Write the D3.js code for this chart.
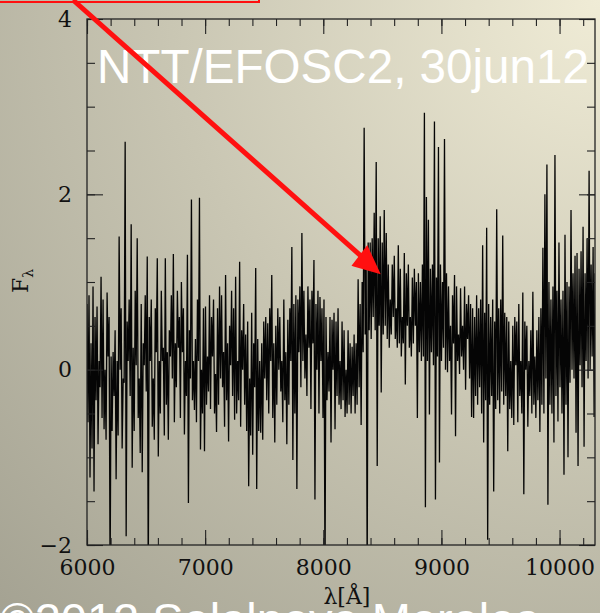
<!DOCTYPE html>
<html>
<head>
<meta charset="utf-8">
<script src="https://cdn.jsdelivr.net/npm/d3@7"></script>
<style>
  html, body { margin: 0; padding: 0; overflow: hidden; background: #c5c2af; }
  svg { display: block; }
</style>
</head>
<body>
<svg id="chart" width="600" height="613"></svg>
<script>
// spectrum: one flux value every 8.5 A from 6000 A
const lambdaStart = 6000
const lambdaStep = 8.5
const flux = [
  0.75, -0.6, 0.85, -1.23, 0.3, -0.9, 0.95, -1.39, 0.6, -0.35,
  0.72, -0.85, 0.1, -0.2, 1.06, -0.55, 0.8, -0.68, 0.0, -0.8,
  0.88, 0.15, 0.6, -2.4, 0.15, -0.7, 0.2, -0.3, 0.45, -1.25,
  0.1, -0.75, 1.52, 0.0, 0.7, -0.9, -0.1, -0.15, 2.6, -1.9,
  0.55, 0.1, 0.8, -0.3, 1.66, -1.12, 0.25, -0.7, 0.9, 0.05,
  1.5, -0.55, -0.1, -0.95, 0.75, -1.17, 0.3, 0.05, 0.85, -0.25,
  1.29, -2.4, 0.6, 0.1, 0.8, -0.65, -0.1, -0.8, 0.7, 0.2,
  1.27, -0.99, 0.1, -0.5, 0.9, 0.1, 0.25, -0.75, 1.27, -0.4,
  0.2, -0.8, 0.45, 0.15, 0.85, -0.1, 1.32, -0.6, 0.3, -0.2,
  0.9, 0.25, 0.6, -0.55, 1.0, 0.2, 0.7, -0.74, 0.1, -0.3,
  1.31, -1.52, 0.45, -0.1, 1.94, -0.35, 0.1, -0.46, 0.35, -0.6,
  0.8, 0.1, 1.96, -0.91, 0.0, -0.5, 0.7, -0.93, 0.72, -0.4,
  0.15, -0.25, 0.85, -0.45, 0.6, 0.15, 0.8, -0.5, -0.05, -0.71,
  0.7, -0.4, 0.95, -0.1, 0.85, -0.2, 0.2, -0.65, 1.08, -0.35,
  0.3, -0.82, 0.5, 0.05, 0.9, -0.3, 0.7, -0.57, 1.06, -0.5,
  0.1, -0.35, 1.23, -0.65, 0.45, 0.0, 0.75, -0.4, 0.4, -0.7,
  0.55, -1.33, -0.1, -0.75, 0.65, -0.97, 0.3, -0.2, 1.16, -1.36,
  0.35, -0.7, 0.1, -0.72, 0.3, -0.8, 0.55, -0.1, 0.6, -0.35,
  0.53, -0.5, 0.7, 0.1, 1.08, -0.55, 0.3, -0.83, 0.5, -0.4,
  0.7, 0.0, 0.6, -0.25, 0.1, -0.6, 0.8, -0.35, 0.2, -0.85,
  0.57, -0.4, 0.7, 0.1, 1.4, -1.03, 0.75, -0.5, 0.85, -1.36,
  0.8, 0.2, 0.95, -0.2, 1.56, 0.1, 0.9, -0.1, 0.4, -0.3,
  0.95, 0.25, 0.8, -0.45, 0.9, 0.3, 1.25, -1.48, 0.75, 0.0,
  0.9, -0.5, 0.83, 0.1, 0.7, -0.55, 0.8, -2.4, 0.6, -0.35,
  0.2, -0.25, 0.6, -0.83, 0.57, 0.0, 0.65, -0.68, 0.55, -0.3,
  0.7, -0.4, 0.1, -0.45, 0.55, -0.35, 0.45, -0.54, 0.0, -0.5,
  0.45, -0.4, 0.3, -0.5, 0.26, -0.3, 0.4, -0.5, 0.3, -0.4,
  1.03, -0.2, 0.75, -0.63, 1.0, 0.2, 2.76, 0.4, 1.3, -2.4,
  1.45, 0.45, 1.45, 0.35, 1.5, 0.6, 1.79, 0.45, 2.37, -1.1,
  1.5, 0.5, 1.75, -0.26, 1.45, 0.4, 1.82, 0.5, 1.56, 0.35,
  1.2, 0.25, 0.8, 0.4, 1.2, 0.6, 1.3, 0.35, 0.7, 0.25,
  1.42, 0.3, 1.15, 0.15, 0.6, 0.3, 1.33, -0.17, 1.1, 0.5,
  1.2, 0.25, 0.6, 0.15, 1.05, 0.3, 1.15, 0.5, 1.0, -0.55,
  1.1, 0.2, 1.0, 0.1, 1.2, 0.15, 2.93, -1.57, 1.97, 0.1,
  1.71, -0.51, 1.15, 0.2, 1.2, 0.05, 2.83, -1.48, 1.05, 0.15,
  2.54, -1.06, 1.2, 0.1, 1.0, 0.25, 2.63, 0.0, 1.1, -0.03,
  0.95, 0.1, 0.5, -0.51, 0.85, 0.3, 1.08, -0.76, 0.95, 0.1,
  0.4, -0.05, 0.93, 0.15, 0.5, 0.0, 0.95, -0.23, 0.75, 0.35,
  0.85, -0.1, 0.75, -0.54, 0.7, -0.55, 0.6, -0.3, 0.85, -0.4,
  0.7, -0.2, 0.8, -0.5, 1.42, -0.83, 0.65, -0.35, 1.62, -1.94,
  0.75, -0.4, 0.6, -0.3, 0.8, -1.39, 0.55, -0.45, 1.83, -0.35,
  0.7, -0.5, 0.8, -0.25, 1.53, -0.4, 0.65, -0.3, 0.6, -0.93,
  0.55, -0.45, 0.1, -0.55, 0.5, -0.63, 0.6, 0.05, 0.55, -0.6,
  0.75, -0.3, 0.1, -0.5, 0.88, -1.42, 0.55, 0.0, 0.5, -0.65,
  0.1, -0.3, 0.45, -0.5, 0.89, -0.4, 0.15, -0.55, 0.45, -0.35,
  0.6, -0.71, 0.7, -0.4, 1.39, -0.5, 2.0, -0.1, 2.34, -1.54,
  1.0, -0.4, 0.8, -0.5, 0.95, -0.83, 2.45, -0.3, 0.9, -0.59,
  1.45, -0.2, 0.8, -0.5, 0.9, -1.2, 1.54, -0.4, 1.0, -1.0,
  0.95, -0.15, 1.82, 0.0, 1.1, -0.1, 1.3, -0.72, 1.33, -1.1,
  1.15, 0.05, 1.35, -0.2, 1.63, -0.88, 1.1, 0.1, 1.5, -0.1,
  2.27, 0.0, 1.2, 0.15, 1.4, -0.54, 1.1
]
const lambda = flux.map((_, i) => lambdaStart + i * lambdaStep)

const xTickLabels = [6000, 7000, 8000, 9000, 10000]
const yTickLabels = [-2, 0, 2, 4]
const title = "NTT/EFOSC2, 30jun12"
const footer = "\u00a92012 Salalnova  Morales"

const width = 600
const height = 613
const m = {left: 87, top: 19, right: 5, bottom: 68}
const iw = width - m.left - m.right
const ih = height - m.top - m.bottom

const svg = d3.select("#chart")

const defs = svg.append("defs")
const grad = defs.append("radialGradient")
  .attr("id", "bg").attr("gradientUnits", "userSpaceOnUse")
  .attr("cx", 600).attr("cy", 0).attr("r", 860)
grad.append("stop").attr("offset", 0).attr("stop-color", "#f0ecd6")
grad.append("stop").attr("offset", 0.5).attr("stop-color", "#c9c6b3")
grad.append("stop").attr("offset", 1).attr("stop-color", "#a4a292")
defs.append("clipPath").attr("id", "plotclip")
  .append("rect").attr("x", 0).attr("y", 0).attr("width", iw).attr("height", ih)

svg.append("rect").attr("width", width).attr("height", height).attr("fill", "url(#bg)")

// big white caption at the foot, mostly cut off by the picture edge
svg.append("text")
  .attr("x", 0).attr("y", 636)
  .attr("font-family", "'Liberation Sans', Arial, sans-serif")
  .attr("font-size", 47).attr("fill", "#fff")
  .text(footer)

const x = d3.scaleLinear().domain([6000, 10300]).range([0, iw])
const y = d3.scaleLinear().domain([-2, 4]).range([ih, 0])

const root = svg.append("g").attr("transform", `translate(${m.left},${m.top})`)

// spectrum
const ln = d3.line().x((d, i) => x(lambda[i])).y((d) => y(d))
root.append("g").attr("clip-path", "url(#plotclip)")
  .append("path")
  .datum(flux)
  .attr("fill", "none")
  .attr("stroke", "#050505")
  .attr("stroke-width", 1.3)
  .attr("d", ln)

// axes: inward ticks on all four sides
const minorX = d3.range(6000, 10301, 200)
const minorY = d3.range(-2, 4.01, 0.5)
const serif = "'DejaVu Serif', serif"

function styleAxis(g) {
  g.select(".domain").remove()
  g.selectAll("line").attr("stroke", "#222").attr("stroke-width", 1.1)
  g.selectAll("text").attr("font-family", serif).attr("font-size", 22).attr("fill", "#111")
}

root.append("g").attr("transform", `translate(0,${ih})`)
  .call(d3.axisBottom(x).tickValues(minorX).tickSize(-7).tickFormat(""))
  .call(styleAxis)
root.append("g").attr("transform", `translate(0,${ih})`)
  .call(d3.axisBottom(x).tickValues(xTickLabels).tickSize(-15).tickPadding(14).tickFormat(d3.format("d")))
  .call(styleAxis)
root.append("g")
  .call(d3.axisTop(x).tickValues(minorX).tickSize(-7).tickFormat(""))
  .call(styleAxis)
root.append("g")
  .call(d3.axisTop(x).tickValues(xTickLabels).tickSize(-15).tickFormat(""))
  .call(styleAxis)
root.append("g")
  .call(d3.axisLeft(y).tickValues(minorY).tickSize(-8).tickFormat(""))
  .call(styleAxis)
root.append("g")
  .call(d3.axisLeft(y).tickValues(yTickLabels).tickSize(-16).tickPadding(15).tickFormat((d) => (d < 0 ? "\u2212" + Math.abs(d) : d)))
  .call(styleAxis)
root.append("g").attr("transform", `translate(${iw},0)`)
  .call(d3.axisRight(y).tickValues(minorY).tickSize(-8).tickFormat(""))
  .call(styleAxis)
root.append("g").attr("transform", `translate(${iw},0)`)
  .call(d3.axisRight(y).tickValues(yTickLabels).tickSize(-16).tickFormat(""))
  .call(styleAxis)

root.append("rect")
  .attr("width", iw).attr("height", ih)
  .attr("fill", "none").attr("stroke", "#222").attr("stroke-width", 1.3)

// axis titles
root.append("text")
  .attr("x", x(8200)).attr("y", ih + 59)
  .attr("text-anchor", "middle")
  .attr("font-family", serif).attr("font-size", 22).attr("fill", "#111")
  .text("\u03bb[\u00c5]")

const fy = svg.append("text")
  .attr("transform", "translate(28,293) rotate(-90)")
  .attr("font-family", serif).attr("font-size", 22).attr("fill", "#111")
fy.append("tspan").text("F")
fy.append("tspan").attr("font-size", 14).attr("dy", 5).text("\u03bb")

// annotation
svg.append("text")
  .attr("x", 97).attr("y", 83)
  .attr("font-family", "'Liberation Sans', Arial, sans-serif")
  .attr("font-size", 47.6).attr("fill", "#fff")
  .text(title)

svg.append("rect")
  .attr("x", -4).attr("y", -40).attr("width", 263).attr("height", 42)
  .attr("fill", "none").attr("stroke", "#ff1010").attr("stroke-width", 2)

const tip = [378, 272]
svg.append("line")
  .attr("x1", 73).attr("y1", 0).attr("x2", 370).attr("y2", 264)
  .attr("stroke", "#ff1010").attr("stroke-width", 5)
svg.append("path")
  .attr("d", d3.line()([[354, 265], [tip[0], tip[1]], [367, 248]]) + "Z")
  .attr("fill", "#ff1010").attr("stroke", "#ff1010").attr("stroke-width", 3)
  .attr("stroke-linejoin", "miter")
</script>
</body>
</html>
